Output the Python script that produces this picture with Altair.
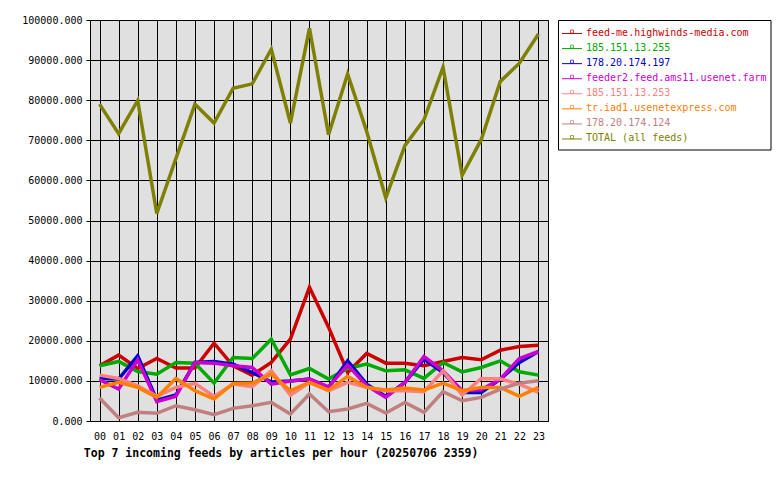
import altair as alt
import pandas as pd

hours = [f"{h:02d}" for h in range(24)]

series = [
    "feed-me.highwinds-media.com",
    "185.151.13.255",
    "178.20.174.197",
    "feeder2.feed.ams11.usenet.farm",
    "185.151.13.253",
    "tr.iad1.usenetexpress.com",
    "178.20.174.124",
    "TOTAL (all feeds)",
]
colors = ["#cc0000", "#00aa00", "#0000cc", "#cc00cc", "#ff8080", "#ff8000", "#c08080", "#808000"]

red = [13760, 16420, 13100, 15590, 13200, 13200, 19400, 13760, 11440, 14600, 20400, 33330,
       23400, 12100, 16840, 14430, 14400, 13760, 14850, 15840, 15260, 17660, 18580, 18900]
green = [13760, 14850, 12360, 11690, 14600, 14400, 9450, 15840, 15590, 20400, 11520, 13100,
         10450, 13100, 14180, 12510, 12760, 10620, 14600, 12260, 13350, 15010, 12260, 11440]
blue = [10620, 10450, 16250, 5220, 6470, 14600, 14850, 14180, 12100, 9700, 10000, 10450,
        8380, 15010, 9200, 6140, 9620, 15420, 12100, 7130, 7130, 10450, 14600, 17330]
magenta = [10280, 7960, 15260, 4810, 6140, 14600, 14430, 13760, 13350, 9200, 10000, 10450,
           8540, 13930, 8790, 5890, 9620, 16090, 12510, 7550, 7800, 10450, 15590, 17330]
salmon = [11440, 10620, 8790, 6140, 8380, 9370, 6140, 9200, 8540, 12510, 6470, 9620,
          7550, 9620, 8380, 7550, 7550, 7300, 12510, 6470, 10620, 10450, 9200, 7130]
orange = [8380, 9620, 8380, 5890, 10620, 7550, 5470, 9370, 9450, 11690, 7550, 9620,
          7710, 11110, 8380, 7710, 8210, 7710, 9450, 7550, 8380, 8380, 6140, 8380]
rosy = [5720, 820, 2160, 1910, 3810, 2810, 1570, 3150, 3810, 4640, 1740, 6720,
        2320, 2990, 4400, 1990, 4640, 2160, 7300, 5060, 5890, 7960, 9450, 10030]
total = [79030, 71640, 79930, 51740, 65420, 79000, 74300, 83000, 84080, 92700, 74300, 97930,
         71390, 86570, 72200, 55640, 68660, 75120, 88230, 61270, 70150, 84660, 89220, 96520]

y_ticks = [0, 10000, 20000, 30000, 40000, 50000, 60000, 70000, 80000, 90000, 100000]
title_text = "Top 7 incoming feeds by articles per hour (20250706 2359)"

values = [red, green, blue, magenta, salmon, orange, rosy, total]
rows = []
for s, vals in zip(series, values):
    for h, v in zip(hours, vals):
        rows.append({"series": s, "hour": h, "value": v})
df = pd.DataFrame(rows)
leg_df = pd.DataFrame({"series": series})

FONT = "DejaVu Sans Mono"
color_enc = alt.Color("series:N", scale=alt.Scale(domain=series, range=colors), legend=None)

lines = alt.Chart(df).mark_line(strokeWidth=3.5, strokeJoin="miter").encode(
    x=alt.X("hour:O", sort=hours, scale=alt.Scale(type="point", padding=0.5),
            axis=alt.Axis(title=None, grid=True, gridColor="black", gridOpacity=1, gridWidth=1,
                          ticks=False, domain=False, labelAngle=0, labelFont=FONT,
                          labelFontSize=10, labelColor="black", labelPadding=10)),
    y=alt.Y("value:Q", scale=alt.Scale(domain=[0, 100000], nice=False),
            axis=alt.Axis(title=None, values=y_ticks, format=".3f", grid=True, gridColor="black",
                          gridOpacity=1, gridWidth=1, tickSize=4, tickColor="black", domain=False,
                          labelFont=FONT, labelFontSize=10, labelColor="black", labelPadding=4)),
    color=color_enc,
)

leg_y = alt.Y("series:N", sort=series, scale=alt.Scale(type="point", range=[12.5, 118], padding=0), axis=None)

box = alt.Chart(pd.DataFrame({"a": [0]})).mark_rect(fill="white", stroke="black", strokeWidth=1).encode(
    x=alt.value(468.5), x2=alt.value(681), y=alt.value(0.5), y2=alt.value(130)
)
leg_rules = alt.Chart(leg_df).mark_rule(strokeWidth=1, yOffset=1).encode(
    x=alt.value(472), x2=alt.value(492), y=leg_y, color=color_enc
)
leg_pts = alt.Chart(leg_df).mark_point(shape="square", size=9, filled=False, strokeWidth=1, yOffset=-1).encode(
    x=alt.value(482), y=leg_y, color=color_enc
)
leg_text = alt.Chart(leg_df).mark_text(align="left", baseline="middle", font=FONT, fontSize=10).encode(
    x=alt.value(496), y=leg_y, text="series:N", color=color_enc
)

chart = alt.layer(lines, box, leg_rules, leg_pts, leg_text).resolve_scale(y="independent").properties(
    width=458,
    height=401,
    title=alt.Title(title_text, orient="bottom", anchor="start", font=FONT, fontSize=11.5,
                    fontWeight="bold", color="black", dx=62, offset=7),
    autosize=alt.AutoSizeParams(type="none"),
    padding={"left": 90, "top": 20, "right": 232, "bottom": 59},
).configure_view(fill="#e0e0e0", stroke="black", strokeWidth=1)

chart.save("out.html", embed_options={"renderer": "svg", "actions": False})
